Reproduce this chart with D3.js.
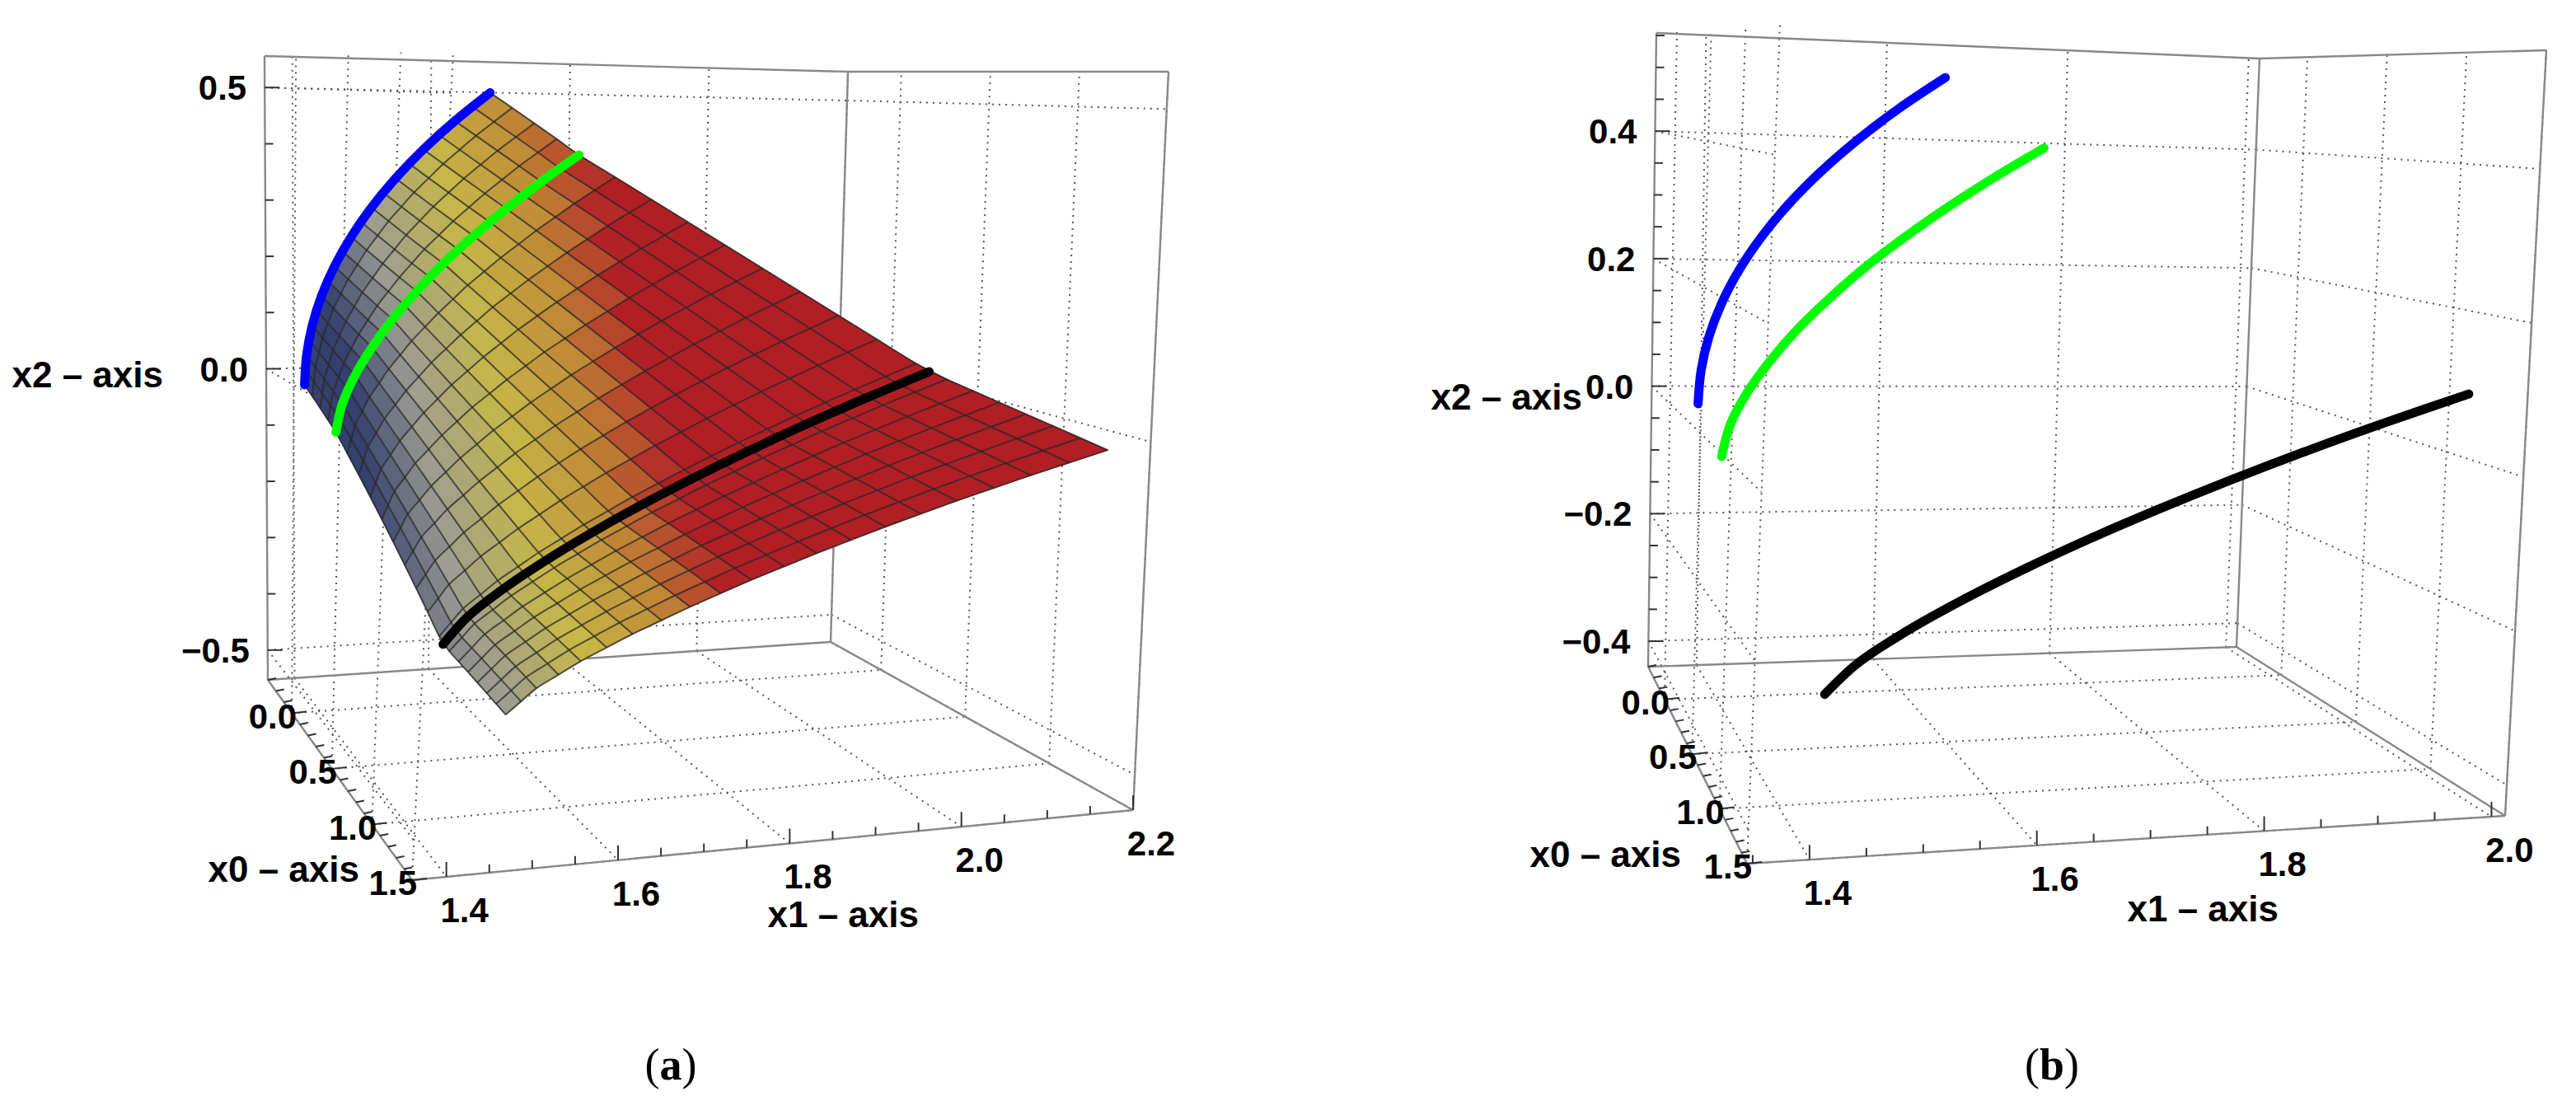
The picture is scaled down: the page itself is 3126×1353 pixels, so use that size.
<!DOCTYPE html>
<html><head><meta charset="utf-8">
<script src="https://cdn.jsdelivr.net/npm/d3@7"></script>
<style>body{margin:0;background:#fff}text{font-family:"Liberation Sans",Arial,sans-serif;font-weight:bold}</style>
</head><body>
<svg id="chart" width="3126" height="1353"></svg>
<script>
// iso-x0 rows of the surface (x0, x1 start/end, x2 start/end)
var rowX0  = [0, 0.3, 1.0, 1.5];
var rowX1a = [1.375, 1.38, 1.44, 1.46];
var rowX1b = [1.63, 1.70, 2.03, 2.15];
var rowX2a = [0.0, -0.05, -0.30, -0.34];
var rowX2b = [0.5, 0.40, 0.08, -0.01];
// shape of each row: fraction of x1 run at each fraction of x2 rise
var profX2 = [0, 0.1, 0.2, 0.3, 0.4, 0.5, 0.6, 0.7, 0.8, 0.9, 1];
var profRows = [
  [0, 0.01, 0.04, 0.09, 0.16, 0.25, 0.36, 0.49, 0.64, 0.81, 1],
  [0, 0.025, 0.076, 0.146, 0.23, 0.33, 0.44, 0.565, 0.70, 0.845, 1],
  [0, 0.05, 0.123, 0.209, 0.304, 0.406, 0.515, 0.629, 0.748, 0.872, 1],
  [0, 0.05, 0.123, 0.209, 0.304, 0.406, 0.515, 0.629, 0.748, 0.872, 1]
];
// curves lie on rows
var curveX0 = [0, 0.3, 1.0];
var curveColor = ["#0000ff", "#00ff00", "#000000"];

var ticksA = { x0: [0, 0.5, 1.0, 1.5], x1: [1.4, 1.6, 1.8, 2.0, 2.2], x2: [-0.5, 0.0, 0.5] };
var ticksB = { x0: [0, 0.5, 1.0, 1.5], x1: [1.4, 1.6, 1.8, 2.0], x2: [-0.4, -0.2, 0.0, 0.2, 0.4] };

var panelA = {
  dom: { x0: [-0.3, 1.5], x1: [1.36, 2.2], x2: [-0.553, 0.556] },
  // corners c[x0][x1][x2]
  c: [[[[325,825],[321,68]],[[1008,779],[1029,87]]],
      [[[500,1068],[550,62]],[[1375,983],[1418,87]]]],
  ticks: ticksA, minor: { x0: 0.1, x1: 0.05, x2: 0.1 }, surface: true,
  titles: [["x2 – axis",198,470],["x0 – axis",436,1070],["x1 – axis",1115,1125]],
  tag: ["a", 814, 1310]
};
var panelB = {
  dom: { x0: [-0.3, 1.5], x1: [1.345, 2.012], x2: [-0.44, 0.554] },
  c: [[[[2000,809],[2010,40]],[[2714,785],[2742,71]]],
      [[[2120,1048],[2160,30]],[[3040,990],[3090,61]]]],
  ticks: ticksB, minor: { x0: 0.1, x1: 0.05, x2: 0.05 }, surface: false,
  titles: [["x2 – axis",1920,497],["x0 – axis",2040,1052],["x1 – axis",2765,1118]],
  tag: ["b", 2490, 1310]
};

var svg = d3.select("#chart");

var rowScale = {
  x1a: d3.scaleLinear().domain(rowX0).range(rowX1a),
  x1b: d3.scaleLinear().domain(rowX0).range(rowX1b),
  x2a: d3.scaleLinear().domain(rowX0).range(rowX2a),
  x2b: d3.scaleLinear().domain(rowX0).range(rowX2b)
};
var profScales = profRows.map(function(r) { return d3.scaleLinear().domain(profX2).range(r); });
function prof(x0, u) {
  return d3.scaleLinear().domain(rowX0).range(profScales.map(function(s) { return s(u); }))(x0);
}
function surfPt(x0, u) {
  return [x0,
    rowScale.x1a(x0) + (rowScale.x1b(x0) - rowScale.x1a(x0)) * prof(x0, u),
    rowScale.x2a(x0) + (rowScale.x2b(x0) - rowScale.x2a(x0)) * u];
}

var color = d3.scaleLinear().domain([1.40, 1.46, 1.55, 1.64, 1.72])
  .range(["#34406e", "#9c9c92", "#c6b848", "#c08a36", "#b11f25"]).clamp(true);

function drawPanel(P) {
  var s0 = d3.scaleLinear().domain(P.dom.x0).range([0, 1]);
  var s1 = d3.scaleLinear().domain(P.dom.x1).range([0, 1]);
  var s2 = d3.scaleLinear().domain(P.dom.x2).range([0, 1]);
  function proj(x0, x1, x2) {
    var a = s0(x0), b = s1(x1), c = s2(x2), out = [0, 0];
    for (var i = 0; i < 2; i++) for (var j = 0; j < 2; j++) for (var k = 0; k < 2; k++) {
      var w = (i ? a : 1 - a) * (j ? b : 1 - b) * (k ? c : 1 - c);
      out[0] += w * P.c[i][j][k][0]; out[1] += w * P.c[i][j][k][1];
    }
    return out;
  }
  var g = svg.append("g");
  var line = d3.line();
  var smooth = d3.line().curve(d3.curveCatmullRom);
  var d0 = P.dom.x0, d1 = P.dom.x1, d2 = P.dom.x2;
  function seg(a, b, cls) {
    g.append("path").attr("d", line([proj.apply(null, a), proj.apply(null, b)]))
      .attr("fill", "none").attr("stroke", cls === "grid" ? "#555" : "#888")
      .attr("stroke-width", cls === "grid" ? 2 : 2.4)
      .attr("stroke-dasharray", cls === "grid" ? "2,6" : null);
  }
  // face grids
  P.ticks.x1.forEach(function(v) {
    seg([d0[0], v, d2[0]], [d0[0], v, d2[1]], "grid");
    seg([d0[0], v, d2[0]], [d0[1], v, d2[0]], "grid");
  });
  P.ticks.x2.forEach(function(v) {
    seg([d0[0], d1[0], v], [d0[0], d1[1], v], "grid");
    seg([d0[0], d1[1], v], [d0[1], d1[1], v], "grid");
    seg([d0[0], d1[0], v], [d0[1], d1[0], v], "grid");
  });
  P.ticks.x0.forEach(function(v) {
    seg([v, d1[0], d2[0]], [v, d1[1], d2[0]], "grid");
    seg([v, d1[1], d2[0]], [v, d1[1], d2[1]], "grid");
    seg([v, d1[0], d2[0]], [v, d1[0], d2[1]], "grid");
  });
  // box edges
  [[[0,0,0],[0,0,1]],[[0,1,0],[0,1,1]],[[1,1,0],[1,1,1]],[[0,0,1],[0,1,1]],[[0,1,1],[1,1,1]],
   [[0,0,0],[0,1,0]],[[0,0,0],[1,0,0]],[[1,0,0],[1,1,0]],[[0,1,0],[1,1,0]]].forEach(function(e) {
    seg([d0[e[0][0]], d1[e[0][1]], d2[e[0][2]]], [d0[e[1][0]], d1[e[1][1]], d2[e[1][2]]], "box");
  });
  // ticks and labels
  function tickRange(dom, step) { return d3.range(Math.ceil(dom[0] / step - 1e-6) * step, dom[1] + 1e-6, step); }
  function isMajor(list, v) { return list.some(function(t) { return Math.abs(t - v) < 1e-6; }); }
  tickRange(d2, P.minor.x2).forEach(function(v) {
    var p = proj(d0[0], d1[0], v), L = isMajor(P.ticks.x2, v) ? 18 : 10;
    g.append("line").attr("x1", p[0]).attr("y1", p[1]).attr("x2", p[0] + L).attr("y2", p[1]).attr("stroke", "#333").attr("stroke-width", 2);
  });
  P.ticks.x2.forEach(function(v) {
    var p = proj(d0[0], d1[0], v);
    g.append("text").attr("x", p[0] - 22).attr("y", p[1] + 15).attr("text-anchor", "end")
      .attr("font-size", 42).text(d3.format(".1f")(v).replace("-", "\u2212"));
  });
  tickRange(d1, P.minor.x1).forEach(function(v) {
    var p = proj(d0[1], v, d2[0]), L = isMajor(P.ticks.x1, v) ? 18 : 10;
    g.append("line").attr("x1", p[0]).attr("y1", p[1]).attr("x2", p[0]).attr("y2", p[1] - L).attr("stroke", "#333").attr("stroke-width", 2);
  });
  P.ticks.x1.forEach(function(v) {
    var p = proj(d0[1], v, d2[0]);
    g.append("text").attr("x", p[0] + 22).attr("y", p[1] + 55).attr("text-anchor", "middle")
      .attr("font-size", 42).text(d3.format(".1f")(v));
  });
  tickRange(d0, P.minor.x0).forEach(function(v) {
    var p = proj(v, d1[0], d2[0]), L = isMajor(P.ticks.x0, v) ? 18 : 10;
    g.append("line").attr("x1", p[0]).attr("y1", p[1]).attr("x2", p[0] + L).attr("y2", p[1] - 2).attr("stroke", "#333").attr("stroke-width", 2);
  });
  P.ticks.x0.forEach(function(v) {
    var p = proj(v, d1[0], d2[0]);
    g.append("text").attr("x", p[0] + 6).attr("y", p[1] + 18).attr("text-anchor", "end")
      .attr("font-size", 42).text(d3.format(".1f")(v));
  });
  // surface
  if (P.surface) {
    var N = 20, M = 20, quads = [];
    for (var i = 0; i < N; i++) for (var j = 0; j < M; j++) {
      var xa = 1.5 * i / N, xb = 1.5 * (i + 1) / N, ua = j / M, ub = (j + 1) / M;
      var pts = [surfPt(xa, ua), surfPt(xa, ub), surfPt(xb, ub), surfPt(xb, ua)];
      quads.push({ pts: pts, x1: d3.mean(pts, function(q) { return q[1]; }) });
    }
    g.selectAll(".q").data(quads).join("path")
      .attr("d", function(q) { return line(q.pts.map(function(p) { return proj(p[0], p[1], p[2]); })) + "Z"; })
      .attr("fill", function(q) { return color(q.x1); })
      .attr("stroke", function(q) { return color(q.x1); }).attr("stroke-width", 1.2);
    var us = d3.range(0, 1.0001, 0.05);
    d3.range(0, N + 1).forEach(function(i) {
      var x0 = 1.5 * i / N;
      g.append("path").attr("d", smooth(us.map(function(u) { var p = surfPt(x0, u); return proj(p[0], p[1], p[2]); })))
        .attr("fill", "none").attr("stroke", "#2a2a2a").attr("stroke-opacity", 0.75).attr("stroke-width", 2);
    });
    var xs = d3.range(0, 1.5001, 0.075);
    d3.range(0, M + 1).forEach(function(j) {
      g.append("path").attr("d", smooth(xs.map(function(x0) { var p = surfPt(x0, j / M); return proj(p[0], p[1], p[2]); })))
        .attr("fill", "none").attr("stroke", "#2a2a2a").attr("stroke-opacity", 0.75).attr("stroke-width", 2);
    });
  }
  // curves
  curveX0.forEach(function(x0, i) {
    g.append("path").attr("d", smooth(profX2.map(function(u) { var p = surfPt(x0, u); return proj(p[0], p[1], p[2]); })))
      .attr("fill", "none").attr("stroke", curveColor[i]).attr("stroke-width", 11).attr("stroke-linecap", "round");
  });
  // titles
  P.titles.forEach(function(t) {
    g.append("text").attr("x", t[1]).attr("y", t[2]).attr("text-anchor", "end").attr("font-size", 44).text(t[0]);
  });
  var tg = g.append("text").attr("x", P.tag[1]).attr("y", P.tag[2]).attr("text-anchor", "middle")
    .attr("font-size", 54).style("font-family", "'Liberation Serif',serif").style("font-weight", "normal");
  tg.append("tspan").text("(");
  tg.append("tspan").style("font-weight", "bold").text(P.tag[0]);
  tg.append("tspan").text(")");
}

drawPanel(panelA);
drawPanel(panelB);
</script>
</body></html>
